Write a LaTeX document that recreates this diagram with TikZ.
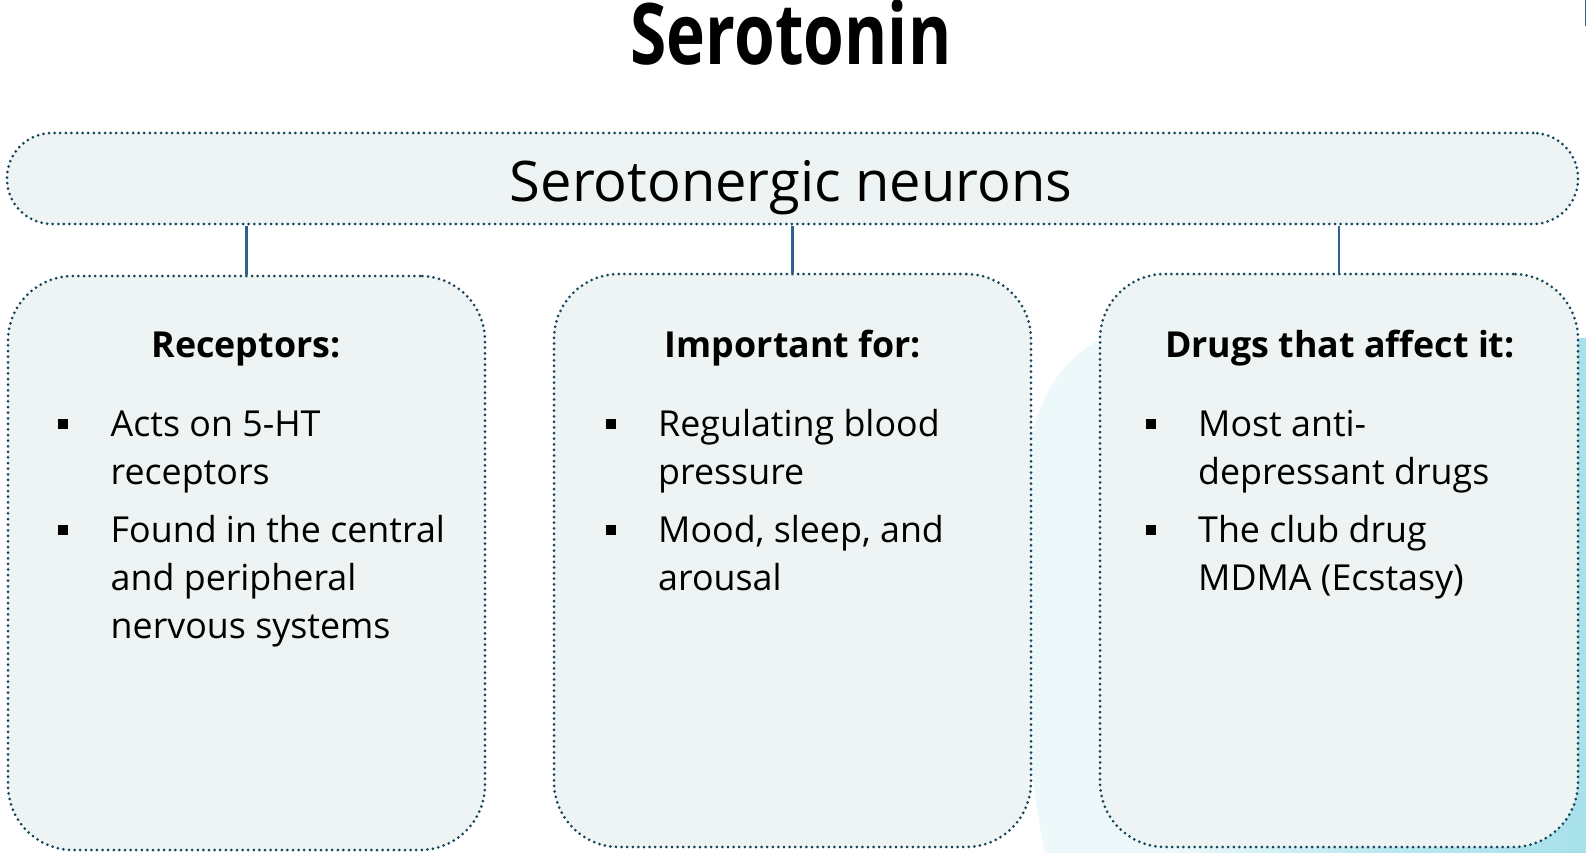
\documentclass[tikz,border=0pt]{standalone}
\usepackage{fontspec}
\setmainfont{Open Sans}
\definecolor{boxfill}{HTML}{EEF3F4}
\definecolor{dotc}{HTML}{134458}
\definecolor{linec}{HTML}{2F5F94}
\definecolor{blobL}{HTML}{EDF8FA}
\definecolor{blobM}{HTML}{BDE9F0}
\definecolor{blobR}{HTML}{A6E0EA}
\pgfdeclarehorizontalshading{blobshade}{100bp}{color(0bp)=(blobL); color(46bp)=(blobL); color(52bp)=(blobM); color(59bp)=(blobR); color(100bp)=(blobR)}
\tikzset{
  panel/.style={draw=dotc, fill=boxfill, line width=3pt, dash pattern=on 0pt off 5.6pt, line cap=round, rounded corners=65pt, inner sep=0pt},
  conn/.style={draw=linec, line width=2.2pt},
  hdr/.style={font=\fontsize{35.8}{44}\selectfont\bfseries, anchor=base, inner sep=0pt},
  itm/.style={font=\fontsize{35.8}{44}\selectfont, anchor=base west, inner sep=0pt},
  blt/.style={fill=black, minimum size=10pt, inner sep=0pt},
}
\begin{document}
\begin{tikzpicture}[x=1pt,y=-1pt]
\useasboundingbox (0,0) rectangle (1586,853);
% background blob
\begin{scope}
\clip (1586,338) -- (1140,330) .. controls (1080,334) and (1025,380) .. (1020,520) .. controls (1016,650) and (1030,780) .. (1045,853) -- (1586,853) -- cycle;
\shade[shading=blobshade, rotate around={-35:(1300,600)}] (700,0) rectangle (1900,1200);
\end{scope}
\fill[linec] (1584.5,0) rectangle (1586,26);
% title
\node[anchor=base, inner sep=0pt] (title) at (791,65) {\scalebox{0.775}[1]{\fontsize{85}{90}\selectfont\bfseries Serotonin}};
% top bar
\node[panel, rounded corners=45pt, minimum width=1571pt, minimum height=91pt] (top) at (792.5,178.5) {};
\node[font=\fontsize{56}{66}\selectfont, anchor=base, inner sep=0pt] (toptxt) at (791,201) {Serotonergic neurons};
% boxes
\node[panel, minimum width=477pt, minimum height=574pt] (b1) at (246.5,563) {};
\node[panel, minimum width=477pt, minimum height=573pt] (b2) at (792.5,560.5) {};
\node[panel, minimum width=478pt, minimum height=573pt] (b3) at (1339,560.5) {};
% connectors
\draw[conn] (top.south -| b1.north) -- (b1.north);
\draw[conn] (top.south -| b2.north) -- (b2.north);
\draw[conn] (top.south -| b3.north) -- (b3.north);
% headers
\node[hdr] (h1) at (246,357) {Receptors:};
\node[hdr] (h2) at (793,357) {Important for:};
\node[hdr] (h3) at (1340,357) {Drugs that affect it:};
% box 1 items
\node[blt] (p1a) at (63,423.5) {};
\node[blt] (p1b) at (63,529.5) {};
\node[itm] (t1a) at (110.5,436) {Acts on 5-HT};
\node[itm] (t1b) at (110.5,484) {receptors};
\node[itm] (t1c) at (110.5,542) {Found in the central};
\node[itm] (t1d) at (110.5,590) {and peripheral};
\node[itm] (t1e) at (110.5,638) {nervous systems};
% box 2 items
\node[blt] (p2a) at (611,423.5) {};
\node[blt] (p2b) at (611,529.5) {};
\node[itm] (t2a) at (658,436) {Regulating blood};
\node[itm] (t2b) at (658,484) {pressure};
\node[itm] (t2c) at (658,542) {Mood, sleep, and};
\node[itm] (t2d) at (658,590) {arousal};
% box 3 items
\node[blt] (p3a) at (1151,423.5) {};
\node[blt] (p3b) at (1151,529.5) {};
\node[itm] (t3a) at (1198,436) {Most anti-};
\node[itm] (t3b) at (1198,484) {depressant drugs};
\node[itm] (t3c) at (1198,542) {The club drug};
\node[itm] (t3d) at (1198,590) {MDMA (Ecstasy)};
\end{tikzpicture}
\end{document}
